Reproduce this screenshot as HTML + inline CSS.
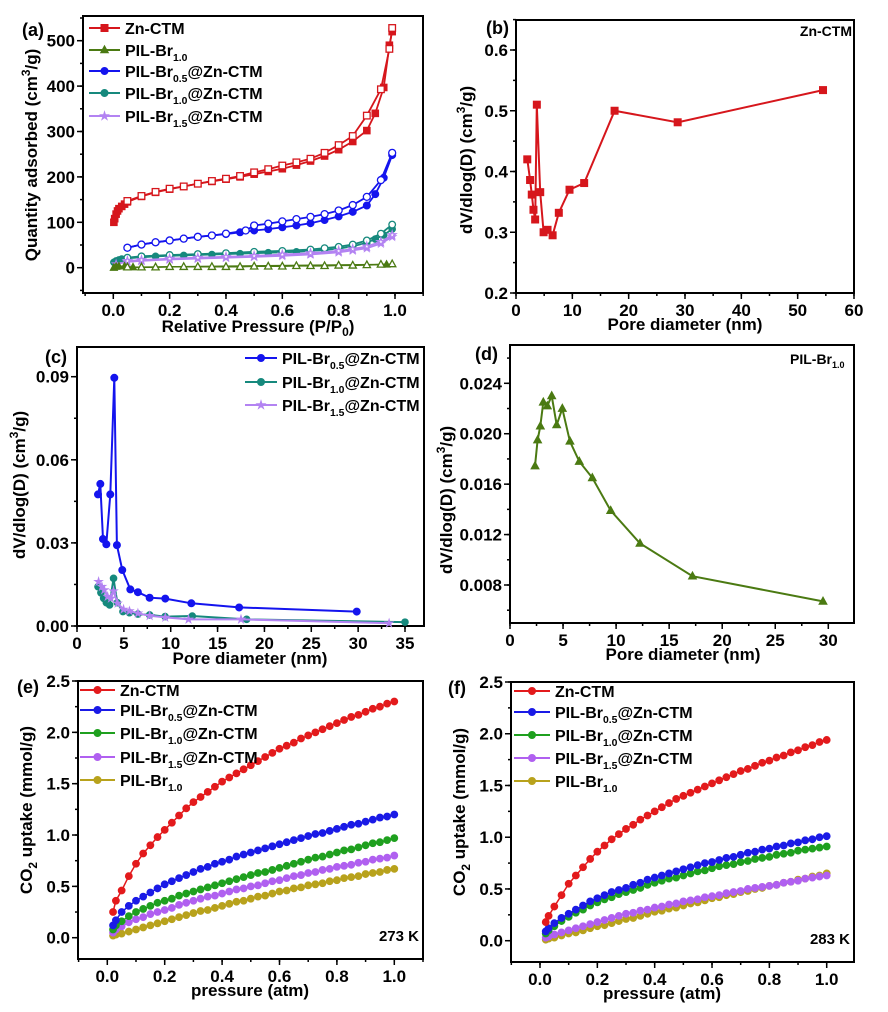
<!DOCTYPE html>
<html><head><meta charset="utf-8"><style>
html,body{margin:0;padding:0;background:#fff;}
svg{display:block;font-family:"Liberation Sans",Arial,sans-serif;font-weight:bold;}
</style></head><body>
<svg id="fig" width="888" height="1012" viewBox="0 0 888 1012" xmlns="http://www.w3.org/2000/svg"></svg>
<script>
// ---------- Panel (a) data ----------
const aZnAdsP=[0.002,0.005,0.01,0.015,0.02,0.03,0.04,0.05,0.1,0.15,0.2,0.25,0.3,0.35,0.4,0.45,0.5,0.55,0.6,0.65,0.7,0.75,0.8,0.85,0.9,0.93,0.96,0.98,0.99];
const aZnAdsV=[100,108,118,125,130,135,140,145,157,166,173,179,185,190,195,200,206,212,218,226,235,246,260,278,302,340,397,490,520];
const aZnDesP=[0.99,0.98,0.95,0.9,0.85,0.8,0.75,0.7,0.65,0.6,0.55,0.5,0.45,0.4,0.35,0.3,0.25,0.2,0.15,0.1,0.05];
const aZnDesV=[528,482,393,335,290,270,253,240,232,225,217,210,202,196,191,185,179,174,167,158,147];
const aBlueAdsP=[0.05,0.1,0.15,0.2,0.25,0.3,0.35,0.4,0.45,0.5,0.55,0.6,0.65,0.7,0.75,0.8,0.85,0.9,0.93,0.96,0.99];
const aBlueAdsV=[44,51,56,60,64,68,71,74,78,82,85,89,93,98,105,113,123,137,162,198,248];
const aBlueDesP=[0.99,0.95,0.9,0.85,0.8,0.75,0.7,0.65,0.6,0.55,0.5,0.47,0.4,0.35,0.3,0.25,0.2,0.15,0.1,0.05];
const aBlueDesV=[253,193,156,138,126,118,112,107,102,97,93,82,75,71,68,64,60,56,51,44];
const aTealAdsP=[0.002,0.01,0.02,0.03,0.05,0.1,0.15,0.2,0.25,0.3,0.35,0.4,0.45,0.5,0.55,0.6,0.65,0.7,0.75,0.8,0.85,0.9,0.93,0.96,0.99];
const aTealAdsV=[12,15,17,19,21,23,25,26,27,28,29,30,31,32,33,34,35,37,39,42,47,55,63,72,85];
const aTealDesP=[0.99,0.95,0.9,0.85,0.8,0.75,0.7,0.6,0.5,0.4,0.3,0.2,0.1,0.05];
const aTealDesV=[95,75,60,51,46,43,40,37,35,32,30,28,25,22];
const aPurpAdsP=[0.01,0.05,0.1,0.2,0.3,0.4,0.5,0.6,0.7,0.8,0.85,0.9,0.95,0.99];
const aPurpAdsV=[8,13,15,18,20,22,24,26,29,34,38,43,53,68];
const aPurpDesP=[0.99,0.95,0.9,0.85,0.8,0.7,0.6,0.5,0.4,0.3,0.2,0.1,0.05];
const aPurpDesV=[72,57,47,41,37,32,29,26,24,22,20,17,15];
const aPilAdsP=[0.002,0.01,0.02,0.04,0.07,0.97];
const aPilAdsV=[0,2,3,3,1,7];
const aPilDesP=[0.99,0.95,0.9,0.85,0.8,0.75,0.7,0.65,0.6,0.55,0.5,0.45,0.4,0.35,0.3,0.25,0.2,0.15,0.1,0.05];
const aPilDesV=[8,7,6,5,5,4,4,4,3,3,3,2,2,2,2,2,2,1,1,1];
// ---------- Panel (b) data ----------
const bPore=[2.0,2.5,2.8,3.1,3.4,3.7,4.3,4.9,5.6,6.5,7.6,9.5,12.1,17.5,28.7,54.5];
const bVal=[0.420,0.386,0.362,0.337,0.321,0.510,0.366,0.300,0.304,0.295,0.332,0.370,0.381,0.500,0.481,0.534];
// ---------- Panel (c) data ----------
const cBlueX=[2.24,2.49,2.77,3.13,3.55,3.98,4.26,4.83,5.69,6.5,7.75,9.42,12.2,17.3,29.85];
const cBlueY=[0.0475,0.0513,0.0314,0.0295,0.0475,0.0896,0.0292,0.0202,0.0132,0.0122,0.0102,0.0099,0.0082,0.0067,0.0052];
const cTealX=[2.24,2.55,2.84,3.13,3.48,3.9,4.3,4.9,5.6,6.5,7.75,9.4,12.3,18.1,35];
const cTealY=[0.0142,0.012,0.010,0.0084,0.0076,0.0172,0.0084,0.0052,0.0048,0.0043,0.0040,0.0034,0.0036,0.0024,0.0014];
const cPurpX=[2.3,2.66,2.91,3.27,3.62,3.9,4.33,4.97,5.6,6.5,7.75,9.42,11.9,17.5,33.3];
const cPurpY=[0.016,0.0142,0.013,0.0106,0.010,0.0126,0.0082,0.006,0.0054,0.0046,0.0037,0.0031,0.0024,0.0024,0.001];
// ---------- Panel (d) data ----------
const dPore=[2.36,2.6,2.86,3.14,3.52,3.93,4.4,4.93,5.65,6.53,7.76,9.49,12.25,17.2,29.5];
const dVal=[0.01744,0.0195,0.0206,0.0225,0.0222,0.0230,0.0207,0.0220,0.0194,0.0178,0.0165,0.0139,0.0113,0.0087,0.0067];
// ---------- Panels (e),(f) data ----------
const pressure=[0.02,0.03,0.05,0.075,0.1,0.125,0.15,0.175,0.2,0.225,0.25,0.275,0.3,0.325,0.35,0.375,0.4,0.425,0.45,0.475,0.5,0.525,0.55,0.575,0.6,0.625,0.65,0.675,0.7,0.725,0.75,0.775,0.8,0.825,0.85,0.875,0.9,0.925,0.95,0.975,1.0];
const eZn=[0.25,0.36,0.46,0.6,0.72,0.82,0.9,0.98,1.05,1.12,1.19,1.26,1.32,1.37,1.42,1.47,1.52,1.56,1.60,1.64,1.68,1.72,1.76,1.80,1.84,1.87,1.90,1.94,1.97,2.0,2.03,2.06,2.09,2.12,2.15,2.17,2.2,2.23,2.25,2.28,2.3];
const eBr05=[0.12,0.17,0.25,0.31,0.36,0.40,0.44,0.48,0.52,0.55,0.58,0.61,0.64,0.67,0.69,0.72,0.74,0.76,0.79,0.81,0.83,0.85,0.87,0.89,0.91,0.93,0.95,0.97,0.99,1.01,1.02,1.04,1.06,1.08,1.10,1.11,1.13,1.15,1.17,1.18,1.2];
const eBr10=[0.08,0.12,0.16,0.21,0.25,0.28,0.31,0.34,0.36,0.38,0.41,0.43,0.45,0.47,0.49,0.51,0.53,0.55,0.57,0.59,0.61,0.63,0.64,0.66,0.68,0.70,0.72,0.74,0.76,0.78,0.79,0.81,0.83,0.85,0.86,0.88,0.9,0.92,0.93,0.95,0.97];
const eBr15=[0.05,0.08,0.11,0.15,0.18,0.2,0.23,0.25,0.27,0.29,0.32,0.34,0.36,0.38,0.40,0.41,0.43,0.45,0.47,0.48,0.50,0.51,0.53,0.55,0.56,0.58,0.60,0.61,0.63,0.64,0.66,0.67,0.69,0.70,0.71,0.73,0.74,0.76,0.77,0.78,0.8];
const ePil=[0.02,0.03,0.04,0.06,0.08,0.10,0.12,0.14,0.16,0.18,0.20,0.22,0.24,0.26,0.27,0.29,0.31,0.33,0.35,0.36,0.38,0.40,0.41,0.43,0.45,0.46,0.48,0.49,0.51,0.52,0.53,0.55,0.56,0.58,0.59,0.60,0.62,0.63,0.64,0.66,0.67];
const fZn=[0.18,0.24,0.33,0.44,0.55,0.63,0.71,0.79,0.86,0.92,0.98,1.03,1.08,1.12,1.17,1.21,1.25,1.29,1.33,1.37,1.40,1.43,1.46,1.49,1.52,1.55,1.58,1.61,1.64,1.66,1.69,1.72,1.74,1.77,1.79,1.82,1.84,1.87,1.89,1.92,1.94];
const fBr05=[0.09,0.12,0.17,0.22,0.26,0.30,0.34,0.38,0.41,0.44,0.47,0.49,0.51,0.54,0.56,0.59,0.61,0.63,0.65,0.67,0.69,0.71,0.73,0.75,0.76,0.78,0.80,0.81,0.83,0.85,0.86,0.88,0.89,0.91,0.92,0.94,0.95,0.97,0.98,1.0,1.01];
const fBr10=[0.07,0.10,0.14,0.19,0.23,0.27,0.30,0.34,0.37,0.40,0.42,0.45,0.47,0.49,0.51,0.54,0.56,0.58,0.60,0.61,0.63,0.65,0.67,0.68,0.70,0.72,0.73,0.74,0.76,0.77,0.79,0.80,0.81,0.83,0.84,0.85,0.87,0.88,0.89,0.90,0.91];
const fBr15=[0.03,0.04,0.06,0.08,0.10,0.12,0.14,0.16,0.18,0.20,0.22,0.24,0.26,0.27,0.29,0.30,0.32,0.33,0.35,0.36,0.38,0.39,0.40,0.42,0.43,0.44,0.46,0.47,0.48,0.50,0.51,0.52,0.53,0.54,0.56,0.57,0.58,0.60,0.61,0.62,0.63];
const fPil=[0.01,0.02,0.03,0.05,0.07,0.08,0.10,0.12,0.14,0.15,0.17,0.19,0.21,0.22,0.24,0.26,0.28,0.29,0.31,0.32,0.34,0.36,0.37,0.39,0.41,0.42,0.44,0.45,0.47,0.48,0.50,0.51,0.53,0.54,0.56,0.57,0.59,0.60,0.62,0.63,0.65];

const NS='http://www.w3.org/2000/svg';
const svg=document.getElementById('fig');
function mk(tag,parent){const e=document.createElementNS(NS,tag);parent.appendChild(e);return e;}
function lin(v0,p0,v1,p1){return v=>p0+(v-v0)*(p1-p0)/(v1-v0);}

function txt(parent,x,y,str,size,anchor,sub,rest){
  const t=mk('text',parent);
  t.setAttribute('x',x);t.setAttribute('y',y);
  t.setAttribute('font-size',size);
  t.setAttribute('text-anchor',anchor||'start');
  t.appendChild(document.createTextNode(str));
  if(sub){const s=mk('tspan',t);s.setAttribute('font-size',size*0.65);s.setAttribute('dy',size*0.3);s.textContent=sub;
    if(rest!==undefined){const r=mk('tspan',t);r.setAttribute('dy',-size*0.3);r.textContent=rest;}}
  return t;
}

function panel(name,box,xs,ys,xt,xm,yt,ym,fmtX,fmtY){
  const g=mk('g',svg);
  
  
  const r=mk('rect',g);
  
  
  r.setAttribute('x',box.l);r.setAttribute('y',box.t);r.setAttribute('width',box.r-box.l);r.setAttribute('height',box.b-box.t);
  r.setAttribute('fill','none');r.setAttribute('stroke','#000');r.setAttribute('stroke-width','2');
  const tg=mk('g',g);
  
  
  xm.forEach(v=>{const x=xs(v);if(x<box.l-0.5||x>box.r+0.5)return;const l=mk('line',tg);l.setAttribute('x1',x);l.setAttribute('x2',x);l.setAttribute('y1',box.b);l.setAttribute('y2',box.b+3);l.setAttribute('stroke','#000');l.setAttribute('stroke-width','1.5');});
  xt.forEach(v=>{const x=xs(v);const l=mk('line',tg);l.setAttribute('x1',x);l.setAttribute('x2',x);l.setAttribute('y1',box.b);l.setAttribute('y2',box.b+6);l.setAttribute('stroke','#000');l.setAttribute('stroke-width','1.5');
    const t=txt(tg,x,box.b+23,fmtX(v),17,'middle');
    
    });
  const yg=mk('g',g);
  
  
  ym.forEach(v=>{const y=ys(v);if(y<box.t-0.5||y>box.b+0.5)return;const l=mk('line',yg);l.setAttribute('y1',y);l.setAttribute('y2',y);l.setAttribute('x1',box.l);l.setAttribute('x2',box.l-3);l.setAttribute('stroke','#000');l.setAttribute('stroke-width','1.5');});
  yt.forEach(v=>{const y=ys(v);const l=mk('line',yg);l.setAttribute('y1',y);l.setAttribute('y2',y);l.setAttribute('x1',box.l);l.setAttribute('x2',box.l-6);l.setAttribute('stroke','#000');l.setAttribute('stroke-width','1.5');
    const t=txt(yg,box.l-8,y+6,fmtY(v),17,'end');
    
    });
  return g;
}
function rng(a,b,s){const o=[];for(let v=a;v<=b+s*1e-6;v+=s)o.push(+v.toFixed(6));return o;}

function marker(g,type,x,y,color,open,sz){
  let m;
  if(type==='sq'){m=mk('rect',g);m.setAttribute('x',x-sz);m.setAttribute('y',y-sz);m.setAttribute('width',2*sz);m.setAttribute('height',2*sz);}
  else if(type==='tri'){m=mk('polygon',g);m.setAttribute('points',`${x},${y-sz*1.2} ${x-sz*1.1},${y+sz*0.8} ${x+sz*1.1},${y+sz*0.8}`);}
  else if(type==='star'){m=mk('polygon',g);let p=[];for(let i=0;i<10;i++){const a=-Math.PI/2+i*Math.PI/5;const rr=i%2?sz*0.45:sz*1.2;p.push((x+rr*Math.cos(a)).toFixed(1)+','+(y+rr*Math.sin(a)).toFixed(1));}m.setAttribute('points',p.join(' '));}
  else {m=mk('circle',g);m.setAttribute('cx',x);m.setAttribute('cy',y);m.setAttribute('r',sz);}
  m.setAttribute('fill',open?'#fff':color);m.setAttribute('stroke',color);m.setAttribute('stroke-width',open?1.3:1);
  return m;
}
function series(parent,name,X,Y,xs,ys,color,type,open,sz,lw){
  const g=mk('g',parent);
  
  
  const pl=mk('polyline',g);
  pl.setAttribute('points',X.map((v,i)=>xs(v).toFixed(1)+','+ys(Y[i]).toFixed(1)).join(' '));
  pl.setAttribute('fill','none');pl.setAttribute('stroke',color);pl.setAttribute('stroke-width',lw||2);
  X.forEach((v,i)=>{const m=marker(g,type,xs(v),ys(Y[i]),color,open,sz);
    
    });
}
function legend(parent,x1,x2,y,color,type,main,sub,rest,size){
  const g=mk('g',parent);
  
  
  const l=mk('line',g);l.setAttribute('x1',x1);l.setAttribute('x2',x2);l.setAttribute('y1',y);l.setAttribute('y2',y);l.setAttribute('stroke',color);l.setAttribute('stroke-width',2);
  marker(g,type,(x1+x2)/2,y,color,false,3.5);
  txt(g,x2+5,y+6,main,size||17,'start',sub,rest);
}
function label(parent,x,y,str,size,name,anchor){const t=txt(parent,x,y,str,size,anchor||'start');
  
  return t;}
// parts: [text, dy, small?]
function ytitle(parent,x,y,parts,size){
  const t=mk('text',parent);
  
  
  t.setAttribute('transform',`translate(${x},${y}) rotate(-90)`);t.setAttribute('text-anchor','middle');t.setAttribute('font-size',size);
  parts.forEach(p=>{const s=mk('tspan',t);s.textContent=p[0];if(p[1])s.setAttribute('dy',p[1]);if(p[2])s.setAttribute('font-size',size*0.7);});
}
const f1=v=>v.toFixed(1),f0=v=>v.toFixed(0);

// ===== Panel a =====
(function(){
  const box={l:83,t:16,r:423,b:293};
  const xs=lin(0,113.3,1,395),ys=lin(0,267.7,500,40.7);
  const g=panel('panel-a-isotherm',box,xs,ys,rng(0,1,0.2),rng(-0.1,1.1,0.1),rng(0,500,100),rng(-50,550,50),f1,f0);
  series(g,'zn-ctm-adsorption',aZnAdsP,aZnAdsV,xs,ys,'#d6161c','sq',false,3.3,1.8);
  series(g,'zn-ctm-desorption',aZnDesP,aZnDesV,xs,ys,'#d6161c','sq',true,3.3,1.8);
  series(g,'pil-br05-adsorption',aBlueAdsP,aBlueAdsV,xs,ys,'#1414ee','circ',false,3.5,1.8);
  series(g,'pil-br05-desorption',aBlueDesP,aBlueDesV,xs,ys,'#1414ee','circ',true,3.5,1.8);
  series(g,'pil-br10-adsorption',aTealAdsP,aTealAdsV,xs,ys,'#16897d','circ',false,3.3,1.8);
  series(g,'pil-br10-desorption',aTealDesP,aTealDesV,xs,ys,'#16897d','circ',true,3.3,1.8);
  series(g,'pil-br15-adsorption',aPurpAdsP,aPurpAdsV,xs,ys,'#b383f2','star',false,3.3,1.8);
  series(g,'pil-br15-desorption',aPurpDesP,aPurpDesV,xs,ys,'#b383f2','star',true,3.3,1.8);
  series(g,'pil-br-adsorption',aPilAdsP,aPilAdsV,xs,ys,'#4b7a12','tri',false,3.3,1.5);
  series(g,'pil-br-desorption',aPilDesP,aPilDesV,xs,ys,'#4b7a12','tri',true,3.3,1.5);
  const lg=mk('g',g);
  
  
  legend(lg,89,120,28,'#d6161c','sq','Zn-CTM',null,null,16);
  legend(lg,89,120,50,'#4b7a12','tri','PIL-Br','1.0',undefined,16);
  legend(lg,89,120,71,'#1414ee','circ','PIL-Br','0.5','@Zn-CTM',16);
  legend(lg,89,120,93,'#16897d','circ','PIL-Br','1.0','@Zn-CTM',16);
  legend(lg,89,120,116,'#b383f2','star','PIL-Br','1.5','@Zn-CTM',16);
  label(g,22,36,'(a)',18,'panel-label');
  ytitle(g,37,155,[['Quantity adsorbed (cm'],['3','-7',true],['/g)','7']],17);
  const xt=mk('text',g);
  
  
  xt.setAttribute('x',258);xt.setAttribute('y',332);xt.setAttribute('text-anchor','middle');xt.setAttribute('font-size',17);
  xt.innerHTML='Relative Pressure (P/P<tspan font-size="12" dy="4">0</tspan><tspan dy="-4">)</tspan>';
})();

// ===== Panel b =====
(function(){
  const box={l:516,t:20,r:854,b:293};
  const xs=lin(0,516,60,854),ys=lin(0.2,293,0.6,50);
  const g=panel('panel-b-psd-zn-ctm',box,xs,ys,rng(0,60,10),rng(0,60,5),rng(0.2,0.6,0.1),rng(0.2,0.65,0.05),f0,f1);
  series(g,'zn-ctm-psd',bPore,bVal,xs,ys,'#d6161c','sq',false,3.5,2);
  label(g,852,36,'Zn-CTM',14,'series-label','end');
  label(g,486,34,'(b)',18,'panel-label');
  ytitle(g,472,160,[['dV/dlog(D) (cm'],['3','-7',true],['/g)','7']],17);
  label(g,685,330,'Pore diameter (nm)',17,'x-axis-title','middle');
})();

// ===== Panel c =====
(function(){
  const box={l:77,t:347,r:424,b:626};
  const xs=lin(0,77,35,405),ys=lin(0,626,0.09,376.7);
  const g=panel('panel-c-psd-composites',box,xs,ys,rng(0,35,5),rng(0,37,2.5),rng(0,0.09,0.03),rng(0,0.1,0.015),f0,v=>v.toFixed(2));
  series(g,'pil-br05-psd',cBlueX,cBlueY,xs,ys,'#1414ee','circ',false,3.5,2);
  series(g,'pil-br10-psd',cTealX,cTealY,xs,ys,'#16897d','circ',false,3.3,2);
  series(g,'pil-br15-psd',cPurpX,cPurpY,xs,ys,'#b383f2','star',false,3.3,2);
  const lg=mk('g',g);
  
  
  legend(lg,245,277,358,'#1414ee','circ','PIL-Br','0.5','@Zn-CTM',16);
  legend(lg,245,277,382,'#16897d','circ','PIL-Br','1.0','@Zn-CTM',16);
  legend(lg,245,277,405,'#b383f2','star','PIL-Br','1.5','@Zn-CTM',16);
  label(g,45,363,'(c)',18,'panel-label');
  ytitle(g,25,485,[['dV/dlog(D) (cm'],['3','-7',true],['/g)','7']],17);
  label(g,250,664,'Pore diameter (nm)',17,'x-axis-title','middle');
})();

// ===== Panel d =====
(function(){
  const box={l:510,t:345,r:854,b:623};
  const xs=lin(0,510,30,828.3),ys=lin(0.008,585,0.024,383.3);
  const g=panel('panel-d-psd-pil-br',box,xs,ys,rng(0,30,5),rng(0,32,2.5),rng(0.008,0.024,0.004),rng(0.006,0.026,0.002),f0,v=>v.toFixed(3));
  series(g,'pil-br10-psd',dPore,dVal,xs,ys,'#4b7a12','tri',false,3.6,2);
  const t=label(g,790,364,'PIL-Br',14,'series-label');
  const s=mk('tspan',t);s.setAttribute('font-size',9);s.setAttribute('dy',4);s.textContent='1.0';
  label(g,475,360,'(d)',18,'panel-label');
  ytitle(g,452,500,[['dV/dlog(D) (cm'],['3','-7',true],['/g)','7']],17);
  label(g,683,660,'Pore diameter (nm)',17,'x-axis-title','middle');
})();

// ===== Panels e, f =====
function co2Panel(name,box,xs,ys,data,lx1,lx2,ly,tag,temp,tagX,titleX,xtitleX){
  const g=panel(name,box,xs,ys,rng(0,1,0.2),rng(-0.1,1.1,0.1),rng(0,2.5,0.5),rng(-0.25,2.5,0.25),f1,f1);
  const cols=['#e31a1c','#1a1ae6','#1fa01f','#b060f0','#b8a21c'];
  const names=['zn-ctm','pil-br05-zn-ctm','pil-br10-zn-ctm','pil-br15-zn-ctm','pil-br10'];
  [4,3,2,1,0].forEach(i=>series(g,names[i]+'-uptake',pressure,data[i],xs,ys,cols[i],'circ',false,3.4,1.5));
  const lg=mk('g',g);
  
  
  legend(lg,lx1,lx2,ly[0],cols[0],'circ','Zn-CTM',null,null,16);
  legend(lg,lx1,lx2,ly[1],cols[1],'circ','PIL-Br','0.5','@Zn-CTM',16);
  legend(lg,lx1,lx2,ly[2],cols[2],'circ','PIL-Br','1.0','@Zn-CTM',16);
  legend(lg,lx1,lx2,ly[3],cols[3],'circ','PIL-Br','1.5','@Zn-CTM',16);
  legend(lg,lx1,lx2,ly[4],cols[4],'circ','PIL-Br','1.0',undefined,16);
  label(g,tagX,box.t+12,tag,18,'panel-label');
  label(g,box.r-4,box.b-18,temp,15,'temperature-label','end');
  ytitle(g,titleX,(box.t+box.b)/2-10,[['CO'],['2','5',true],[' uptake (mmol/g)','-5']],17);
  label(g,xtitleX,box.b+37,'pressure (atm)',17,'x-axis-title','middle');
}
co2Panel('panel-e-co2-273k',{l:78,t:681,r:423,b:959},lin(0,107.3,1,394.3),lin(0,937.7,2.5,681),[eZn,eBr05,eBr10,eBr15,ePil],80,115,[690,710,733,757,780],'(e)','273 K',17,32,250);
co2Panel('panel-f-co2-283k',{l:511,t:682,r:854,b:962},lin(0,540,1,826.7),lin(0,940.7,2.5,682),[fZn,fBr05,fBr10,fBr15,fPil],514,550,[691,712,735,758,781],'(f)','283 K',448,465,662);
</script>
</body></html>
